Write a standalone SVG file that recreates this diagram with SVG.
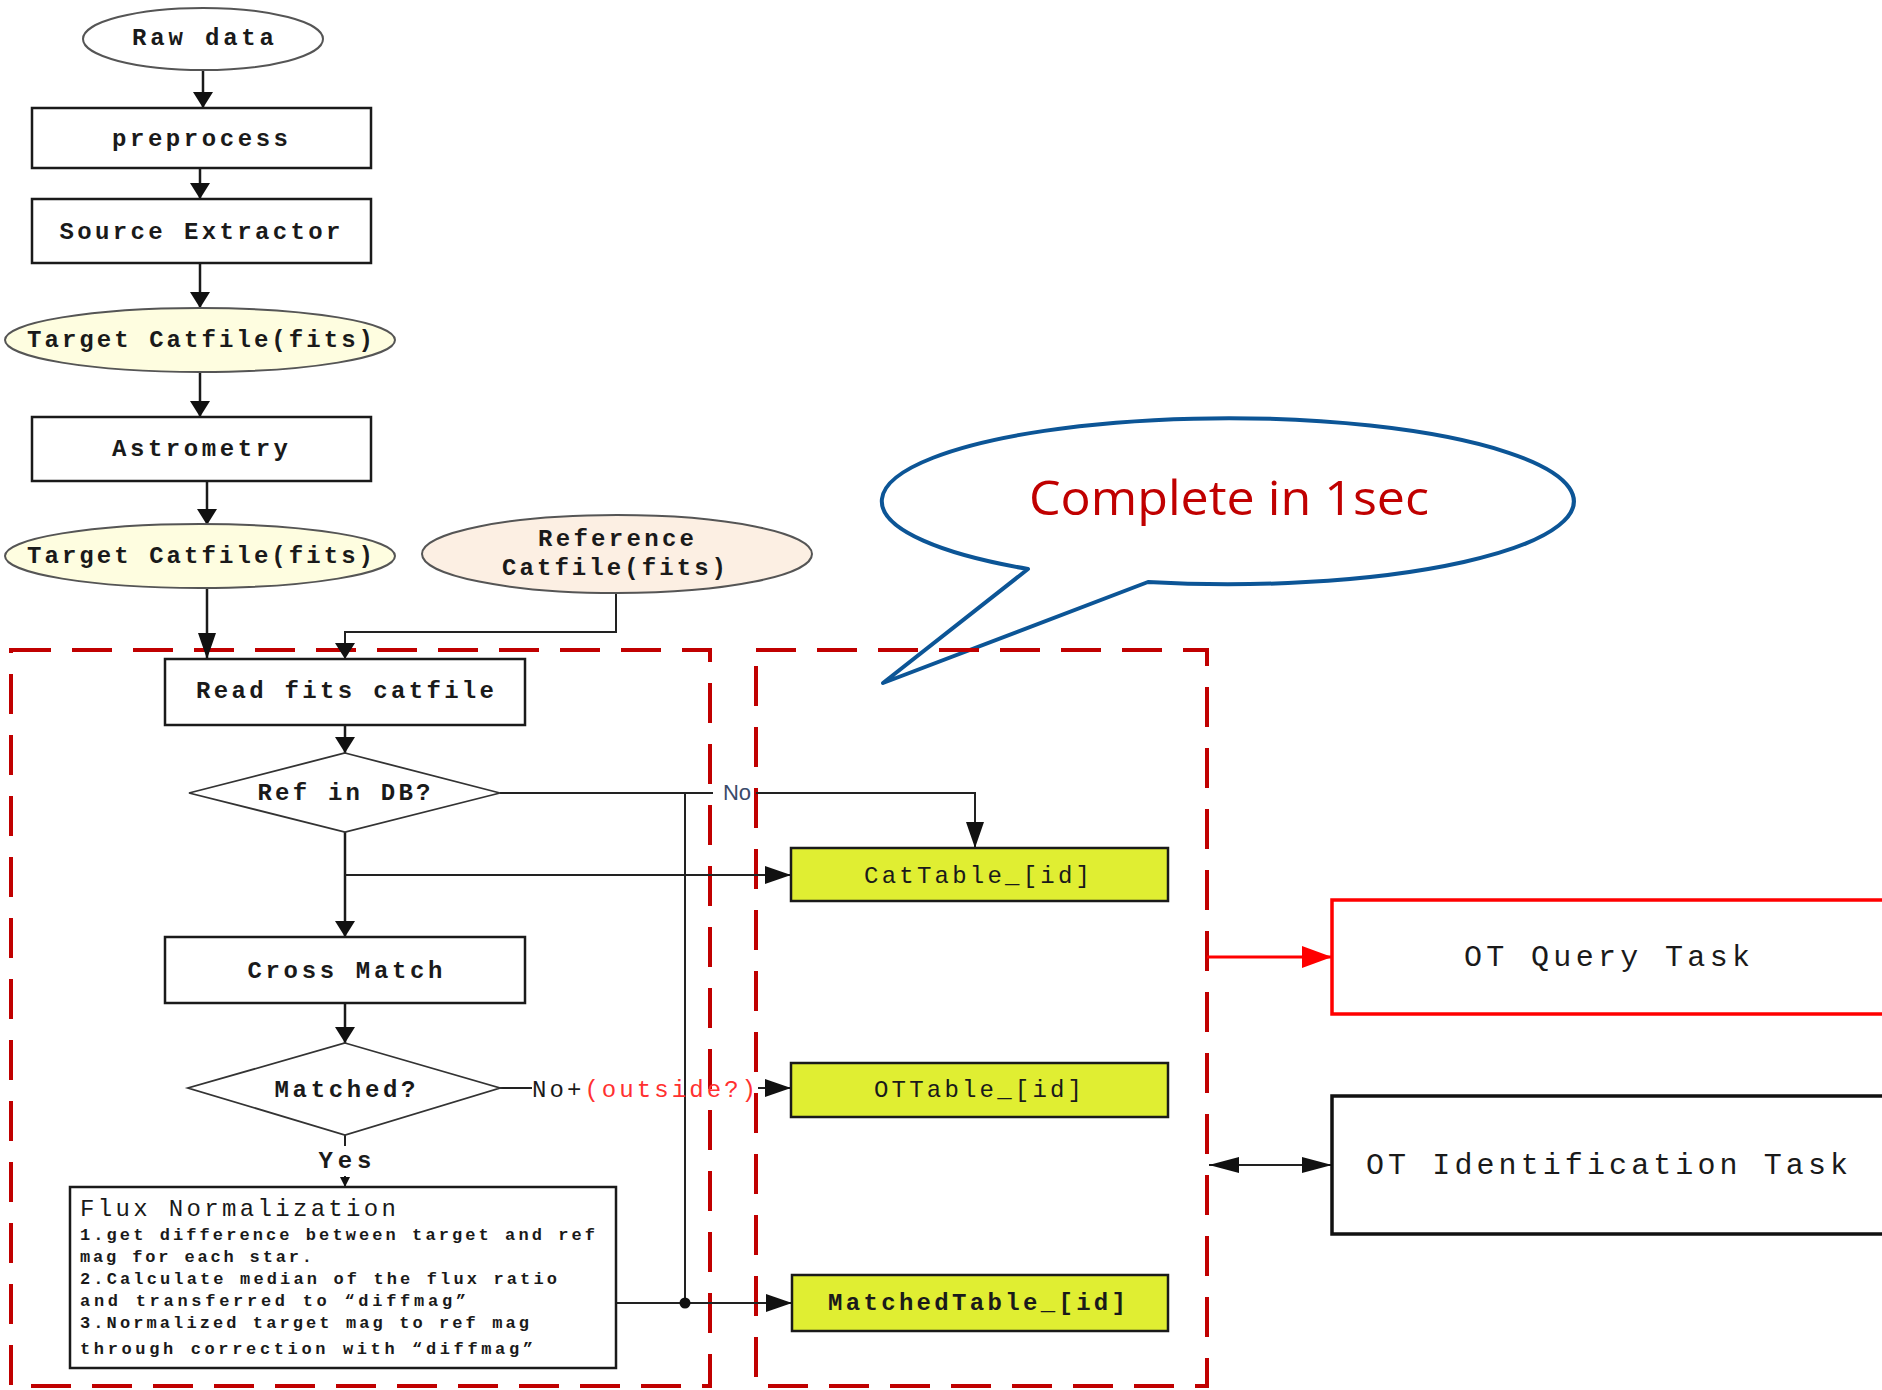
<svg xmlns="http://www.w3.org/2000/svg" width="1882" height="1390" viewBox="0 0 1882 1390">
<style>
.lbl{font-family:"Liberation Mono","DejaVu Sans Mono",monospace;font-size:24px;fill:#1a1a1a;text-anchor:middle;font-weight:bold}
.big{font-family:"Liberation Mono","DejaVu Sans Mono",monospace;font-size:30px;fill:#1a1a1a;text-anchor:middle}
.sm{font-family:"Liberation Mono","DejaVu Sans Mono",monospace;font-size:17px;fill:#1a1a1a;font-weight:bold}
.box{fill:#fff;stroke:#1a1a1a;stroke-width:2.5}
.tbl{fill:#e0ee32;stroke:#1a1a1a;stroke-width:2.5}
.ell{stroke:#555;stroke-width:2}
.dia{fill:#fff;stroke:#333;stroke-width:1.8}
.ln{fill:none;stroke:#1a1a1a;stroke-width:2.5}
.ln2{fill:none;stroke:#222;stroke-width:2}
.region{fill:none;stroke:#c00000;stroke-width:4;stroke-dasharray:40 21}
</style>
<defs>
<marker id="ah" viewBox="0 0 16 20" refX="16" refY="10" markerWidth="16" markerHeight="20" markerUnits="userSpaceOnUse" orient="auto"><path d="M0,0 L16,10 L0,20 z" fill="#111"/></marker>
<marker id="am" viewBox="0 0 26 18" refX="26" refY="9" markerWidth="26" markerHeight="18" markerUnits="userSpaceOnUse" orient="auto"><path d="M0,0 L26,9 L0,18 z" fill="#111"/></marker>
<marker id="ad" viewBox="0 0 30 16" refX="30" refY="8" markerWidth="30" markerHeight="16" markerUnits="userSpaceOnUse" orient="auto-start-reverse"><path d="M0,0 L30,8 L0,16 z" fill="#111"/></marker>
<marker id="ar" viewBox="0 0 30 22" refX="30" refY="11" markerWidth="30" markerHeight="22" markerUnits="userSpaceOnUse" orient="auto"><path d="M0,0 L30,11 L0,22 z" fill="#ff0000"/></marker>
<marker id="as" viewBox="0 0 10 10" refX="10" refY="5" markerWidth="10" markerHeight="10" markerUnits="userSpaceOnUse" orient="auto"><path d="M0,0 L10,5 L0,10 z" fill="#111"/></marker>
</defs>
<rect width="1882" height="1390" fill="#fff"/>

<g id="callout">
<path d="M1028 569 A346 83 0 1 1 1148 582 L883 683 Z" fill="#fff" stroke="#0c5596" stroke-width="4" stroke-linejoin="round"/>
<text x="1229" y="515" font-family="'Open Sans','Noto Sans','DejaVu Sans',sans-serif" font-size="48" fill="#c00000" text-anchor="middle" textLength="400" lengthAdjust="spacingAndGlyphs">Complete in 1sec</text>
</g>

<g id="regions">
<rect class="region" x="11" y="650" width="699" height="736"/>
<rect class="region" x="756" y="650" width="451" height="736"/>
</g>

<g id="connectors">
<line class="ln" x1="203" y1="70" x2="203" y2="108" marker-end="url(#ah)"/>
<line class="ln" x1="200" y1="168" x2="200" y2="199" marker-end="url(#ah)"/>
<line class="ln" x1="200" y1="263" x2="200" y2="308" marker-end="url(#ah)"/>
<line class="ln" x1="200" y1="373" x2="200" y2="417" marker-end="url(#ah)"/>
<line class="ln" x1="207" y1="481" x2="207" y2="525" marker-end="url(#ah)"/>
<line class="ln" x1="207" y1="588" x2="207" y2="659" marker-end="url(#am)"/>
<polyline class="ln2" points="616,593 616,632 345,632 345,659" marker-end="url(#ah)"/>
<line class="ln" x1="345" y1="725" x2="345" y2="753" marker-end="url(#ah)"/>
<line class="ln" x1="345" y1="832" x2="345" y2="937" marker-end="url(#ah)"/>
<line class="ln2" x1="345" y1="875" x2="791" y2="875" marker-end="url(#am)"/>
<line class="ln2" x1="500" y1="793" x2="713" y2="793"/>
<polyline class="ln2" points="756,793 975,793 975,848" marker-end="url(#am)"/>
<line class="ln2" x1="685" y1="793" x2="685" y2="1303"/>
<line class="ln" x1="345" y1="1003" x2="345" y2="1043" marker-end="url(#ah)"/>
<line class="ln2" x1="500" y1="1088" x2="532" y2="1088"/>
<line class="ln2" x1="758" y1="1088" x2="791" y2="1088" marker-end="url(#am)"/>
<line class="ln2" x1="345" y1="1135" x2="345" y2="1146"/>
<line class="ln2" x1="345" y1="1176" x2="345" y2="1187" marker-end="url(#as)"/>
<line class="ln2" x1="616" y1="1303" x2="792" y2="1303" marker-end="url(#am)"/>
<circle cx="685" cy="1303" r="5.5" fill="#111"/>
<line x1="1207" y1="957" x2="1332" y2="957" stroke="#ff0000" stroke-width="3" marker-end="url(#ar)"/>
<line class="ln2" x1="1209" y1="1165" x2="1332" y2="1165" marker-start="url(#ad)" marker-end="url(#ad)"/>
<text x="737" y="800" font-family="'Liberation Sans',Arial,sans-serif" font-size="22" fill="#3a4a6a" text-anchor="middle">No</text>
<text x="532" y="1097" class="lbl" style="text-anchor:start;font-weight:normal" textLength="224" lengthAdjust="spacing">No+<tspan fill="#ff3030">(outside?)</tspan></text>
<text x="345" y="1168" class="lbl" textLength="53" lengthAdjust="spacing">Yes</text>
</g>

<g id="raw-data">
<ellipse class="ell" cx="203" cy="39" rx="120" ry="31" fill="#fff"/>
<text class="lbl" x="203" y="45" textLength="142" lengthAdjust="spacing">Raw data</text>
</g>
<g id="preprocess">
<rect class="box" x="32" y="108" width="339" height="60"/>
<text class="lbl" x="200" y="146" textLength="176" lengthAdjust="spacing">preprocess</text>
</g>
<g id="source-extractor">
<rect class="box" x="32" y="199" width="339" height="64"/>
<text class="lbl" x="200" y="239" textLength="281" lengthAdjust="spacing">Source Extractor</text>
</g>
<g id="target-catfile-1">
<ellipse class="ell" cx="200" cy="340" rx="195" ry="32" fill="#fefde0"/>
<text class="lbl" x="200" y="347" textLength="346" lengthAdjust="spacing">Target Catfile(fits)</text>
</g>
<g id="astrometry">
<rect class="box" x="32" y="417" width="339" height="64"/>
<text class="lbl" x="200" y="456" textLength="176" lengthAdjust="spacing">Astrometry</text>
</g>
<g id="target-catfile-2">
<ellipse class="ell" cx="200" cy="556" rx="195" ry="32" fill="#fefde0"/>
<text class="lbl" x="200" y="563" textLength="346" lengthAdjust="spacing">Target Catfile(fits)</text>
</g>
<g id="reference-catfile">
<ellipse class="ell" cx="617" cy="554" rx="195" ry="39" fill="#fcefe3"/>
<text class="lbl" x="616" y="546" textLength="156" lengthAdjust="spacing">Reference</text>
<text class="lbl" x="614" y="575" textLength="224" lengthAdjust="spacing">Catfile(fits)</text>
</g>
<g id="read-fits">
<rect class="box" x="165" y="659" width="360" height="66"/>
<text class="lbl" x="345" y="698" textLength="298" lengthAdjust="spacing">Read fits catfile</text>
</g>
<g id="ref-in-db">
<polygon class="dia" points="345,753 500,793 345,832 189,793"/>
<text class="lbl" x="344" y="800" textLength="173" lengthAdjust="spacing">Ref in DB?</text>
</g>
<g id="cross-match">
<rect class="box" x="165" y="937" width="360" height="66"/>
<text class="lbl" x="345" y="978" textLength="195" lengthAdjust="spacing">Cross Match</text>
</g>
<g id="matched">
<polygon class="dia" points="345,1043 500,1088 345,1135 188,1088"/>
<text class="lbl" x="345" y="1097" textLength="141" lengthAdjust="spacing">Matched?</text>
</g>
<g id="flux-normalization">
<rect class="box" x="70" y="1187" width="546" height="181"/>
<text class="lbl" x="80" y="1216" style="text-anchor:start;font-weight:normal" textLength="316" lengthAdjust="spacing">Flux Normalization</text>
<text class="sm" x="80" y="1240" textLength="515" lengthAdjust="spacing">1.get difference between target and ref</text>
<text class="sm" x="80" y="1262" textLength="232" lengthAdjust="spacing">mag for each star.</text>
<text class="sm" x="80" y="1284" textLength="477" lengthAdjust="spacing">2.Calculate median of the flux ratio</text>
<text class="sm" x="80" y="1306" textLength="386" lengthAdjust="spacing">and transferred to “diffmag”</text>
<text class="sm" x="80" y="1328" textLength="449" lengthAdjust="spacing">3.Normalized target mag to ref mag</text>
<text class="sm" x="80" y="1354" textLength="453" lengthAdjust="spacing">through correction with “diffmag”</text>
</g>
<g id="cattable">
<rect class="tbl" x="791" y="848" width="377" height="53"/>
<text class="lbl" x="977" y="883" style="font-weight:normal" textLength="226" lengthAdjust="spacing">CatTable_[id]</text>
</g>
<g id="ottable">
<rect class="tbl" x="791" y="1063" width="377" height="54"/>
<text class="lbl" x="978" y="1097" style="font-weight:normal" textLength="208" lengthAdjust="spacing">OTTable_[id]</text>
</g>
<g id="matchedtable">
<rect class="tbl" x="792" y="1275" width="376" height="56"/>
<text class="lbl" x="977" y="1310" textLength="298" lengthAdjust="spacing">MatchedTable_[id]</text>
</g>
<g id="ot-query-task">
<rect x="1332" y="900" width="560" height="114" fill="#fff" stroke="#ff0000" stroke-width="3.5"/>
<text class="big" x="1607" y="966" textLength="286" lengthAdjust="spacing">OT Query Task</text>
</g>
<g id="ot-identification-task">
<rect x="1332" y="1096" width="560" height="138" fill="#fff" stroke="#111" stroke-width="3.5"/>
<text class="big" x="1607" y="1174" textLength="482" lengthAdjust="spacing">OT Identification Task</text>
</g>
</svg>
